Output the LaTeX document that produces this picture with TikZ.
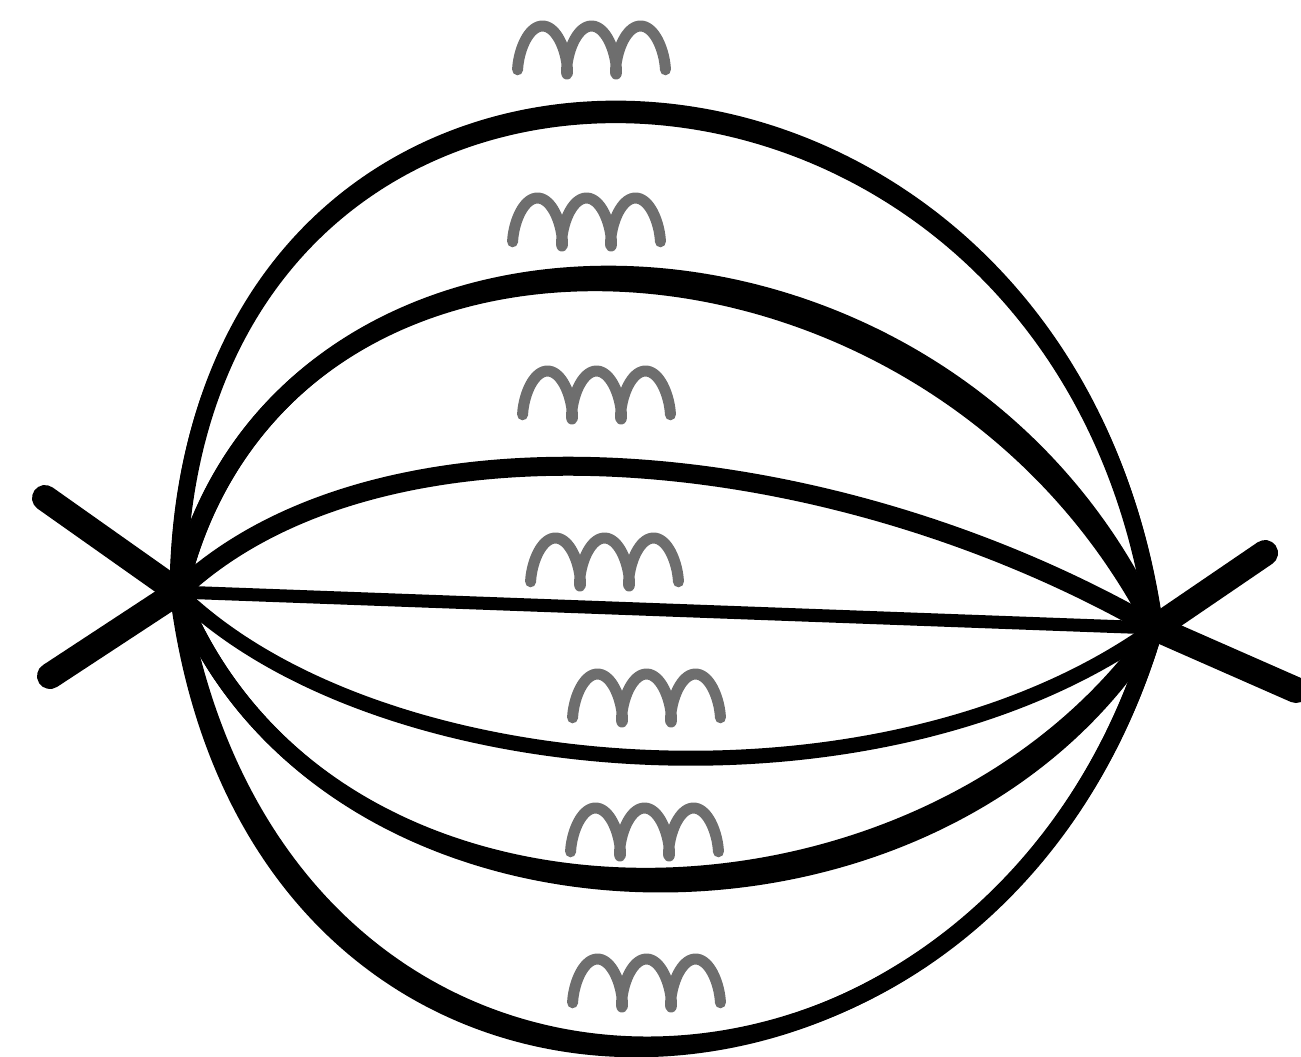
\documentclass[tikz,border=0pt]{standalone}
\usepackage{tikz}
\definecolor{coilgray}{HTML}{6E6E6E}
\begin{document}
\begin{tikzpicture}[x=1pt,y=-1pt,
  prop/.style={line width=#1,line cap=round},prop/.default=19pt,
  leg/.style={line width=26pt,line cap=round},
  coil/.pic={\draw[coilgray,line width=11pt,line cap=round,line join=round] plot[domain=0.6:18.25,samples=140,smooth] ({7.8*\x-9*sin(\x r)},{24*cos(\x r)});}]
\useasboundingbox (0,0) rectangle (1301,1057);
% vertices
\coordinate (vl) at (178,592);
\coordinate (vr) at (1155,628);
% external legs
\coordinate (inA) at (45,498);
\coordinate (inB) at (50,676);
\coordinate (outA) at (1265,553);
\coordinate (outB) at (1296,690);
\draw[leg] (inA)--(vl);\draw[leg] (inB)--(vl);
\draw[leg] (outA)--(vr);\draw[leg] (outB)--(vr);
% propagators between the vertices (second strokes thicken them)
\draw[prop=17pt] (vl) .. controls +(5,-660) and +(-90,-660) .. (vr);
\draw[prop=16pt] (vl) .. controls +(5,-668) and +(-90,-668) .. (vr);
\draw[prop] (vl) .. controls +(100,-437) and +(-224,-437) .. (vr);
\draw[prop] (vl) .. controls +(100,-437) and +(-205,-455) .. (vr);
\draw[prop] (vl) .. controls +(200,-190) and +(-330,-190) .. (vr);
\draw[prop=13pt] (vl) -- (vr);
\draw[prop=15pt] (vl) .. controls +(200,196) and +(-271,196) .. (vr);
\draw[prop=17pt] (vl) .. controls +(150,380) and +(-230,330) .. (vr);
\draw[prop=17pt] (vl) .. controls +(150,380) and +(-212,350) .. (vr);
\draw[prop=17pt] (vl) .. controls +(100,610) and +(-160,550) .. (vr);
\draw[prop=17pt] (vl) .. controls +(78,620) and +(-160,550) .. (vr);
% coils
\pic at (518,50) {coil};
\pic at (513,222) {coil};
\pic at (523,395) {coil};
\pic at (531,562) {coil};
\pic at (573,698) {coil};
\pic at (571,832) {coil};
\pic at (573,983) {coil};
\end{tikzpicture}
\end{document}
